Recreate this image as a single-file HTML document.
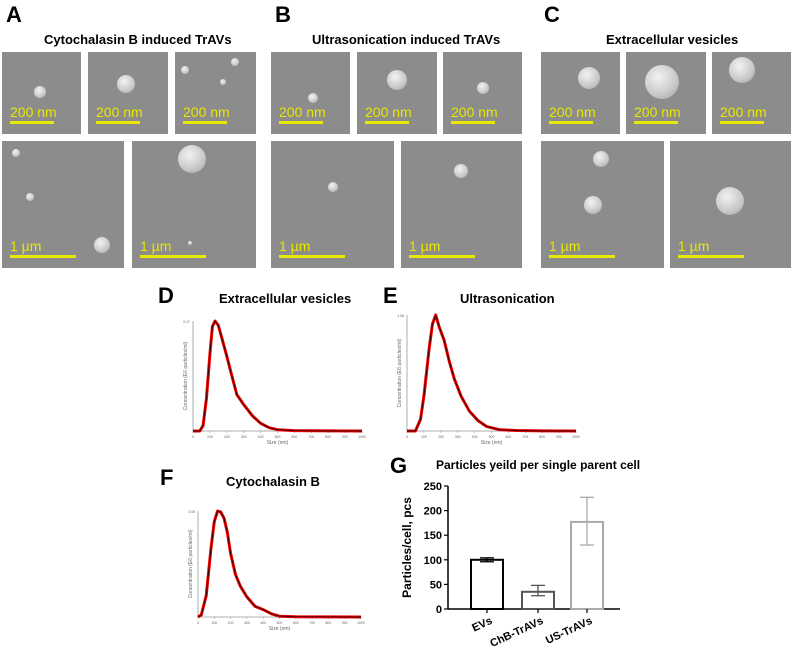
<!DOCTYPE html>
<html><head><meta charset="utf-8"><style>
body{margin:0;width:795px;height:658px;background:#fff;position:relative;overflow:hidden;font-family:"Liberation Sans",sans-serif}
.abs{position:absolute}
.L{position:absolute;font-weight:bold;font-size:22px;color:#000}
.T{position:absolute;font-weight:bold;font-size:13px;color:#000;white-space:nowrap}
.sem{position:absolute;background:#8c8c8c;overflow:hidden}
.p{position:absolute;border-radius:50%;background:radial-gradient(circle at 40% 35%,#f2f2f2,#c8c8c8 60%,#9a9a9a)}
.sb{position:absolute;left:8px;bottom:10px;color:#e8e800;font-size:14px}
.sb div{height:3px;background:#e8e800;margin-top:1px}
</style></head><body>
<div class="L" style="left:6px;top:2px">A</div>
<div class="L" style="left:275px;top:2px">B</div>
<div class="L" style="left:544px;top:2px">C</div>
<div class="T" style="left:44px;top:32px">Cytochalasin B induced TrAVs</div>
<div class="T" style="left:312px;top:32px">Ultrasonication induced TrAVs</div>
<div class="T" style="left:606px;top:32px">Extracellular vesicles</div>
<div id="sems"></div>
<div class="L" style="left:158px;top:283px">D</div>
<div class="T" style="left:219px;top:291px">Extracellular vesicles</div>
<div class="L" style="left:383px;top:283px">E</div>
<div class="T" style="left:460px;top:291px">Ultrasonication</div>
<div class="L" style="left:160px;top:465px">F</div>
<div class="T" style="left:226px;top:474px">Cytochalasin B</div>
<div class="L" style="left:390px;top:453px">G</div>
<div class="T" style="left:436px;top:458px;font-size:12px">Particles yeild per single parent cell</div>
<svg id="svg" class="abs" style="left:0;top:0" width="795" height="658"></svg>
<script>
const semBoxes=[[2,52,79,82,'200 nm',[[38,40,6]]],[88,52,80,82,'200 nm',[[38,32,9]]],[175,52,81,82,'200 nm',[[10,18,4],[48,30,3],[60,10,4]]],
[2,141,122,127,'1 µm',[[14,12,4],[28,56,4],[100,104,8]]],[132,141,124,127,'1 µm',[[60,18,14],[58,102,2]]],
[271,52,79,82,'200 nm',[[42,46,5]]],[357,52,80,82,'200 nm',[[40,28,10]]],[443,52,79,82,'200 nm',[[40,36,6]]],
[271,141,123,127,'1 µm',[[62,46,5]]],[401,141,121,127,'1 µm',[[60,30,7]]],
[541,52,79,82,'200 nm',[[48,26,11]]],[626,52,80,82,'200 nm',[[36,30,17]]],[712,52,79,82,'200 nm',[[30,18,13]]],
[541,141,123,127,'1 µm',[[60,18,8],[52,64,9]]],[670,141,121,127,'1 µm',[[60,60,14]]]];
const semC=document.getElementById('sems');
semBoxes.forEach((b,i)=>{const d=document.createElement('div');d.className='sem';


d.style.cssText=`left:${b[0]}px;top:${b[1]}px;width:${b[2]}px;height:${b[3]}px`;
b[5].forEach(p=>{const e=document.createElement('div');e.className='p';e.style.cssText=`left:${p[0]-p[2]}px;top:${p[1]-p[2]}px;width:${2*p[2]}px;height:${2*p[2]}px`;d.appendChild(e);});
const s=document.createElement('div');s.className='sb';


s.innerHTML=b[4]+`<div style="width:${b[4]=='1 µm'?66:44}px"></div>`;d.appendChild(s);semC.appendChild(d);});

const evSizes=[0,40,60,80,100,115,130,150,170,200,230,260,300,350,400,450,500,600,700,800,1000];
const evConc=[0,0,0.05,0.3,0.7,0.95,1.0,0.96,0.85,0.68,0.5,0.33,0.24,0.14,0.07,0.03,0.012,0.004,0.002,0.001,0];
const usSizes=[0,50,80,100,130,150,170,190,220,250,280,320,370,420,470,550,650,800,1000];
const usConc=[0,0,0.1,0.3,0.7,0.92,1.0,0.9,0.78,0.6,0.45,0.3,0.17,0.09,0.04,0.01,0.004,0.001,0];
const cbSizes=[0,20,50,80,100,120,140,160,180,200,230,260,300,350,400,450,500,600,800,1000];
const cbConc=[0,0.02,0.2,0.65,0.9,1.0,0.99,0.93,0.8,0.6,0.4,0.29,0.19,0.1,0.07,0.03,0.008,0.003,0.001,0];
const xTicks=[0,100,200,300,400,500,600,700,800,900,1000];
const ntaMax=['0.17','1.06','0.05'];
const barCats=['EVs','ChB-TrAVs','US-TrAVs'];
const barVals=[100,35,177];
const barLo=[96,27,130];
const barHi=[104,48,227];
const barColors=['#000','#555','#aaa'];
const yTicks=[0,50,100,150,200,250];

const svg=document.getElementById('svg');const NS='http://www.w3.org/2000/svg';
function mk(t,a,name){const e=document.createElementNS(NS,t);for(const k in a)e.setAttribute(k,a[k]);svg.appendChild(e);return e;}
function nta(x0,x1,yT,yB,sizes,conc,maxLbl,id){
 const sx=v=>x0+(x1-x0)*v/1000, sy=v=>yB-(yB-yT)*v;
 mk('line',{x1:x0,y1:yT,x2:x0,y2:yB,stroke:'#999','stroke-width':0.8},id+'-y-axis');
 mk('line',{x1:x0,y1:yB,x2:x1,y2:yB,stroke:'#999','stroke-width':0.8},id+'-x-axis');
 xTicks.forEach(t=>{mk('line',{x1:sx(t),y1:yB,x2:sx(t),y2:yB+2,stroke:'#999','stroke-width':0.6},id+'-x-tick');
  const tx=mk('text',{x:sx(t),y:yB+7,'font-size':3.5,'text-anchor':'middle',fill:'#666'},id+'-x-tick-label');tx.textContent=t;});
 const mt=mk('text',{x:x0-3,y:yT+2,'font-size':3.5,'text-anchor':'end',fill:'#666'},id+'-y-max-label');mt.textContent=maxLbl;
 const xl=mk('text',{x:(x0+x1)/2,y:yB+13,'font-size':5,'text-anchor':'middle',fill:'#666'},id+'-x-title');xl.textContent='Size (nm)';
 const yl=mk('text',{x:0,y:0,'font-size':5,'text-anchor':'middle',fill:'#666',transform:`translate(${x0-6},${(yT+yB)/2}) rotate(-90)`},id+'-y-title');yl.textContent='Concentration (E6 particles/ml)';
 const d=sizes.map((s,i)=>(i?'L':'M')+sx(s).toFixed(1)+','+sy(conc[i]).toFixed(1)).join(' ');
 mk('path',{d:d,fill:'none',stroke:'#e00','stroke-width':3,'stroke-linejoin':'round'},id+'-error-band');
 mk('path',{d:d,fill:'none',stroke:'#300','stroke-width':0.9,'stroke-linejoin':'round'},id+'-mean-line');
}
nta(193,362,321,431,evSizes,evConc,ntaMax[0],'ev-chart');
nta(407,576,315,431,usSizes,usConc,ntaMax[1],'us-chart');
nta(198,361,511,617,cbSizes,cbConc,ntaMax[2],'cb-chart');

const gx0=448,gx1=620,gy0=609,gy250=486;
const gy=v=>gy0-(gy0-gy250)*v/250;
const bx=[487,538,587],bw=32;
mk('line',{x1:gx0,y1:gy(250),x2:gx0,y2:gy0,stroke:'#000','stroke-width':1.5},'g-y-axis');
mk('line',{x1:gx0,y1:gy0,x2:gx1,y2:gy0,stroke:'#000','stroke-width':1.5},'g-x-axis');
yTicks.forEach(t=>{mk('line',{x1:gx0-4,y1:gy(t),x2:gx0,y2:gy(t),stroke:'#000','stroke-width':1.2},'g-y-tick');
 const tx=mk('text',{x:gx0-6,y:gy(t)+4,'font-size':11,'font-weight':'bold','text-anchor':'end'},'g-y-tick-label');tx.textContent=t;});
const yt=mk('text',{x:0,y:0,'font-size':12,'font-weight':'bold','text-anchor':'middle',transform:`translate(411,${gy(125)}) rotate(-90)`},'g-y-title');yt.textContent='Particles/cell, pcs';
barCats.forEach((c,i)=>{
 mk('rect',{x:bx[i]-bw/2,y:gy(barVals[i]),width:bw,height:gy0-gy(barVals[i]),fill:'#fff',stroke:barColors[i],'stroke-width':2},'bar-'+c.toLowerCase());
 mk('line',{x1:bx[i],y1:gy(barHi[i]),x2:bx[i],y2:gy(barLo[i]),stroke:barColors[i],'stroke-width':1.3},'error-bar');
 [barHi[i],barLo[i]].forEach(v=>mk('line',{x1:bx[i]-7,y1:gy(v),x2:bx[i]+7,y2:gy(v),stroke:barColors[i],'stroke-width':1.3},'error-cap'));
 mk('line',{x1:bx[i],y1:gy0,x2:bx[i],y2:gy0+4,stroke:'#000','stroke-width':1.2},'g-x-tick');
 const t=mk('text',{x:0,y:0,'font-size':11,'font-weight':'bold','text-anchor':'end',transform:`translate(${bx[i]+6},${gy0+14}) rotate(-25)`},'g-x-label');t.textContent=c;
});
</script>
</body></html>
